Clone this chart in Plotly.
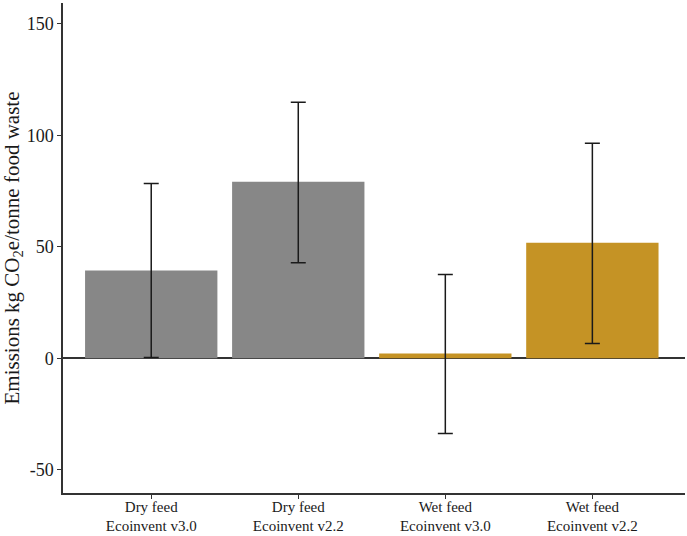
import plotly.graph_objects as go

categories = ["Dry feed<br>Ecoinvent v3.0", "Dry feed<br>Ecoinvent v2.2",
              "Wet feed<br>Ecoinvent v3.0", "Wet feed<br>Ecoinvent v2.2"]
values = [39.4, 79.2, 2.1, 51.8]
err_upper = [78.4, 114.9, 37.6, 96.5]
err_lower = [0.3, 42.8, -33.8, 6.6]
bar_colors = ["#878787", "#878787", "#C59325", "#C59325"]
y_tickvals = [-50, 0, 50, 100, 150]
y_ticktext = ["-50", "0", "50", "100", "150"]

xpos = list(range(len(categories)))
fig = go.Figure()
fig.add_trace(go.Bar(
    x=xpos, y=values, width=0.9,
    marker=dict(color=bar_colors, line=dict(width=0)),
    error_y=dict(type="data", symmetric=False,
                 array=[u - v for u, v in zip(err_upper, values)],
                 arrayminus=[v - l for v, l in zip(values, err_lower)],
                 color="#1a1a1a", thickness=1.5, width=7.5),
    showlegend=False,
))

font_family = "Liberation Serif"
fig.update_layout(
    width=687, height=536,
    margin=dict(l=63, r=2, t=3, b=43, autoexpand=False),
    paper_bgcolor="white", plot_bgcolor="white",
    font=dict(family=font_family, color="#1a1a1a", size=16),
    bargap=0.1,
)
fig.update_xaxes(
    range=[-0.6, 3.63], tickvals=xpos, ticktext=categories,
    showline=True, linecolor="#333333", linewidth=1.5,
    ticks="outside", ticklen=4, tickcolor="#333333", tickwidth=1,
    tickfont=dict(size=15, family=font_family, color="#1a1a1a"),
    ticklabelstandoff=-5,
    showgrid=False, zeroline=False, automargin=False,
)
fig.update_yaxes(
    range=[-60.5, 159.4], tickvals=y_tickvals, ticktext=y_ticktext,
    showline=True, linecolor="#333333", linewidth=1.5,
    ticks="outside", ticklen=4, tickcolor="#333333", tickwidth=1,
    tickfont=dict(size=18, family=font_family, color="#1a1a1a"),
    showgrid=False, automargin=False,
    zeroline=True, zerolinecolor="#333333", zerolinewidth=1.5,
    title=dict(text="Emissions kg CO<sub>2</sub>e/tonne food waste",
               font=dict(size=21, family=font_family, color="#1a1a1a"),
               standoff=4),
)
fig.write_html("out.html", config={"displayModeBar": False},
               post_script="document.body.style.margin='0';document.body.style.overflow='hidden';")
